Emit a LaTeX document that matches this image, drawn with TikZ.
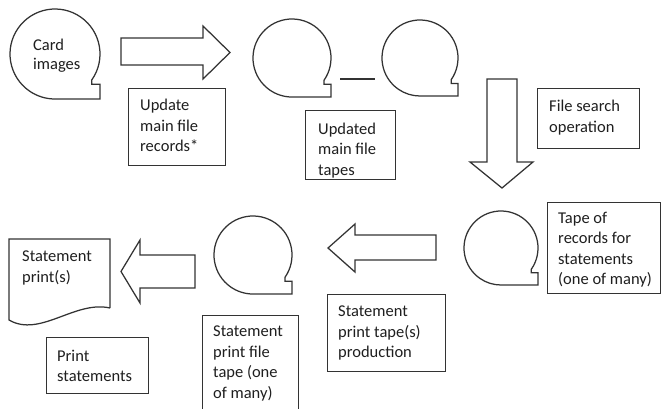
\documentclass[tikz,border=0pt]{standalone}
\usepackage{fontspec}
\setmainfont{Carlito}
\usetikzlibrary{calc}
\tikzset{
  ln/.style={draw=black!80, line width=1.25pt, line join=miter},
  boxshape/.style={ln, anchor=north west, inner sep=0pt},
  lbl/.style={inner sep=0pt, anchor=west, align=left, text=black!88,
    font=\fontsize{16.5}{20.5}\selectfont},
  blockarrow/.style={ln, fill=white},
  tapenode/.style={circle, inner sep=0pt}
}
% name, cx, cy (downwards), r
\newcommand{\tapeat}[4]{%
  \node[tapenode, minimum size={2*#4pt}] (#1) at (#2,-#3) {};
  \draw[ln] ($(#1.center)+(-35:#4pt)$) arc[start angle=-35, end angle=270, radius=#4pt]
    -- ++(#4,0) -- ++(0,{0.33*#4})
    -- ($(#1.center)+({0.819*#4},{-0.67*#4})$) -- cycle;
}
% name, x, y, w, h
\newcommand{\boxat}[5]{%
  \node[boxshape, minimum width=#4pt, minimum height=#5pt] (#1) at (#2,-#3) {};
}
\begin{document}
\begin{tikzpicture}[x=1pt,y=1pt]
\useasboundingbox (0,0) rectangle (661,-409);
\fill[white] (0,0) rectangle (661,-409);

% tapes
\tapeat{t1}{55}{54}{45}
\node[lbl] (t1txt) at (33,-56) {Card\\[-1.5pt]images};
\tapeat{t2}{292}{58}{39}
\tapeat{t3}{420}{58}{38}
\tapeat{t4}{501}{248}{37}
\tapeat{t5}{253}{255}{39}

% connector line between t2 and t3
\draw[ln] ($(t2.center)+(48,-21)$) -- ($(t3.center)+(-45,-21)$);

% block arrows
\draw[blockarrow] (121,-38) -- (203,-38) -- (203,-26) -- (230,-52.5) -- (203,-79) -- (203,-65) -- (121,-65) -- cycle;
\draw[blockarrow] (487,-79) -- (517,-79) -- (517,-162) -- (533,-162) -- (502,-188) -- (470,-162) -- (487,-162) -- cycle;
\draw[blockarrow] (436,-235) -- (355,-235) -- (355,-224) -- (328,-248) -- (355,-272) -- (355,-260) -- (436,-260) -- cycle;
\draw[blockarrow] (195,-255) -- (140,-255) -- (140,-240) -- (121,-271.5) -- (140,-303) -- (140,-288) -- (195,-288) -- cycle;

% boxes
\boxat{b1}{128}{88}{97}{77}
\node[lbl] (b1txt) at ($(b1.west)+(12,1.5)$) {Update\\main file\\records*};

\boxat{b2}{305}{110}{90}{69}
\begin{scope}
  \clip (b2.south west) rectangle (b2.north east);
  \node[lbl] (b2txt) at ($(b2.west)+(13,-5)$) {Updated\\main file\\tapes};
\end{scope}

\boxat{b3}{537}{88}{102}{60}
\node[lbl] (b3txt) at ($(b3.west)+(12,1)$) {File search\\operation};

\boxat{b4}{547}{202}{113}{91}
\node[lbl] (b4txt) at ($(b4.west)+(11,-1.5)$) {Tape of\\records for\\statements\\(one of many)};

\boxat{b5}{327}{294}{118}{77}
\node[lbl] (b5txt) at ($(b5.west)+(11,0)$) {Statement\\print tape(s)\\production};

\boxat{b6}{202}{315}{96}{96}
\node[lbl] (b6txt) at ($(b6.west)+(11,0)$) {Statement\\print file\\tape (one\\of many)};

\boxat{b7}{46}{337}{102}{56}
\node[lbl] (b7txt) at ($(b7.west)+(11,-0.5)$) {Print\\statements};

% document shape
\draw[ln] (110,-308) -- (110,-239) -- (9,-239) -- (9,-320)
  .. controls (40,-338) and (75,-300) .. (110,-308);
\node[lbl] (doctxt) at (22,-268) {Statement\\print(s)};
\end{tikzpicture}
\end{document}
